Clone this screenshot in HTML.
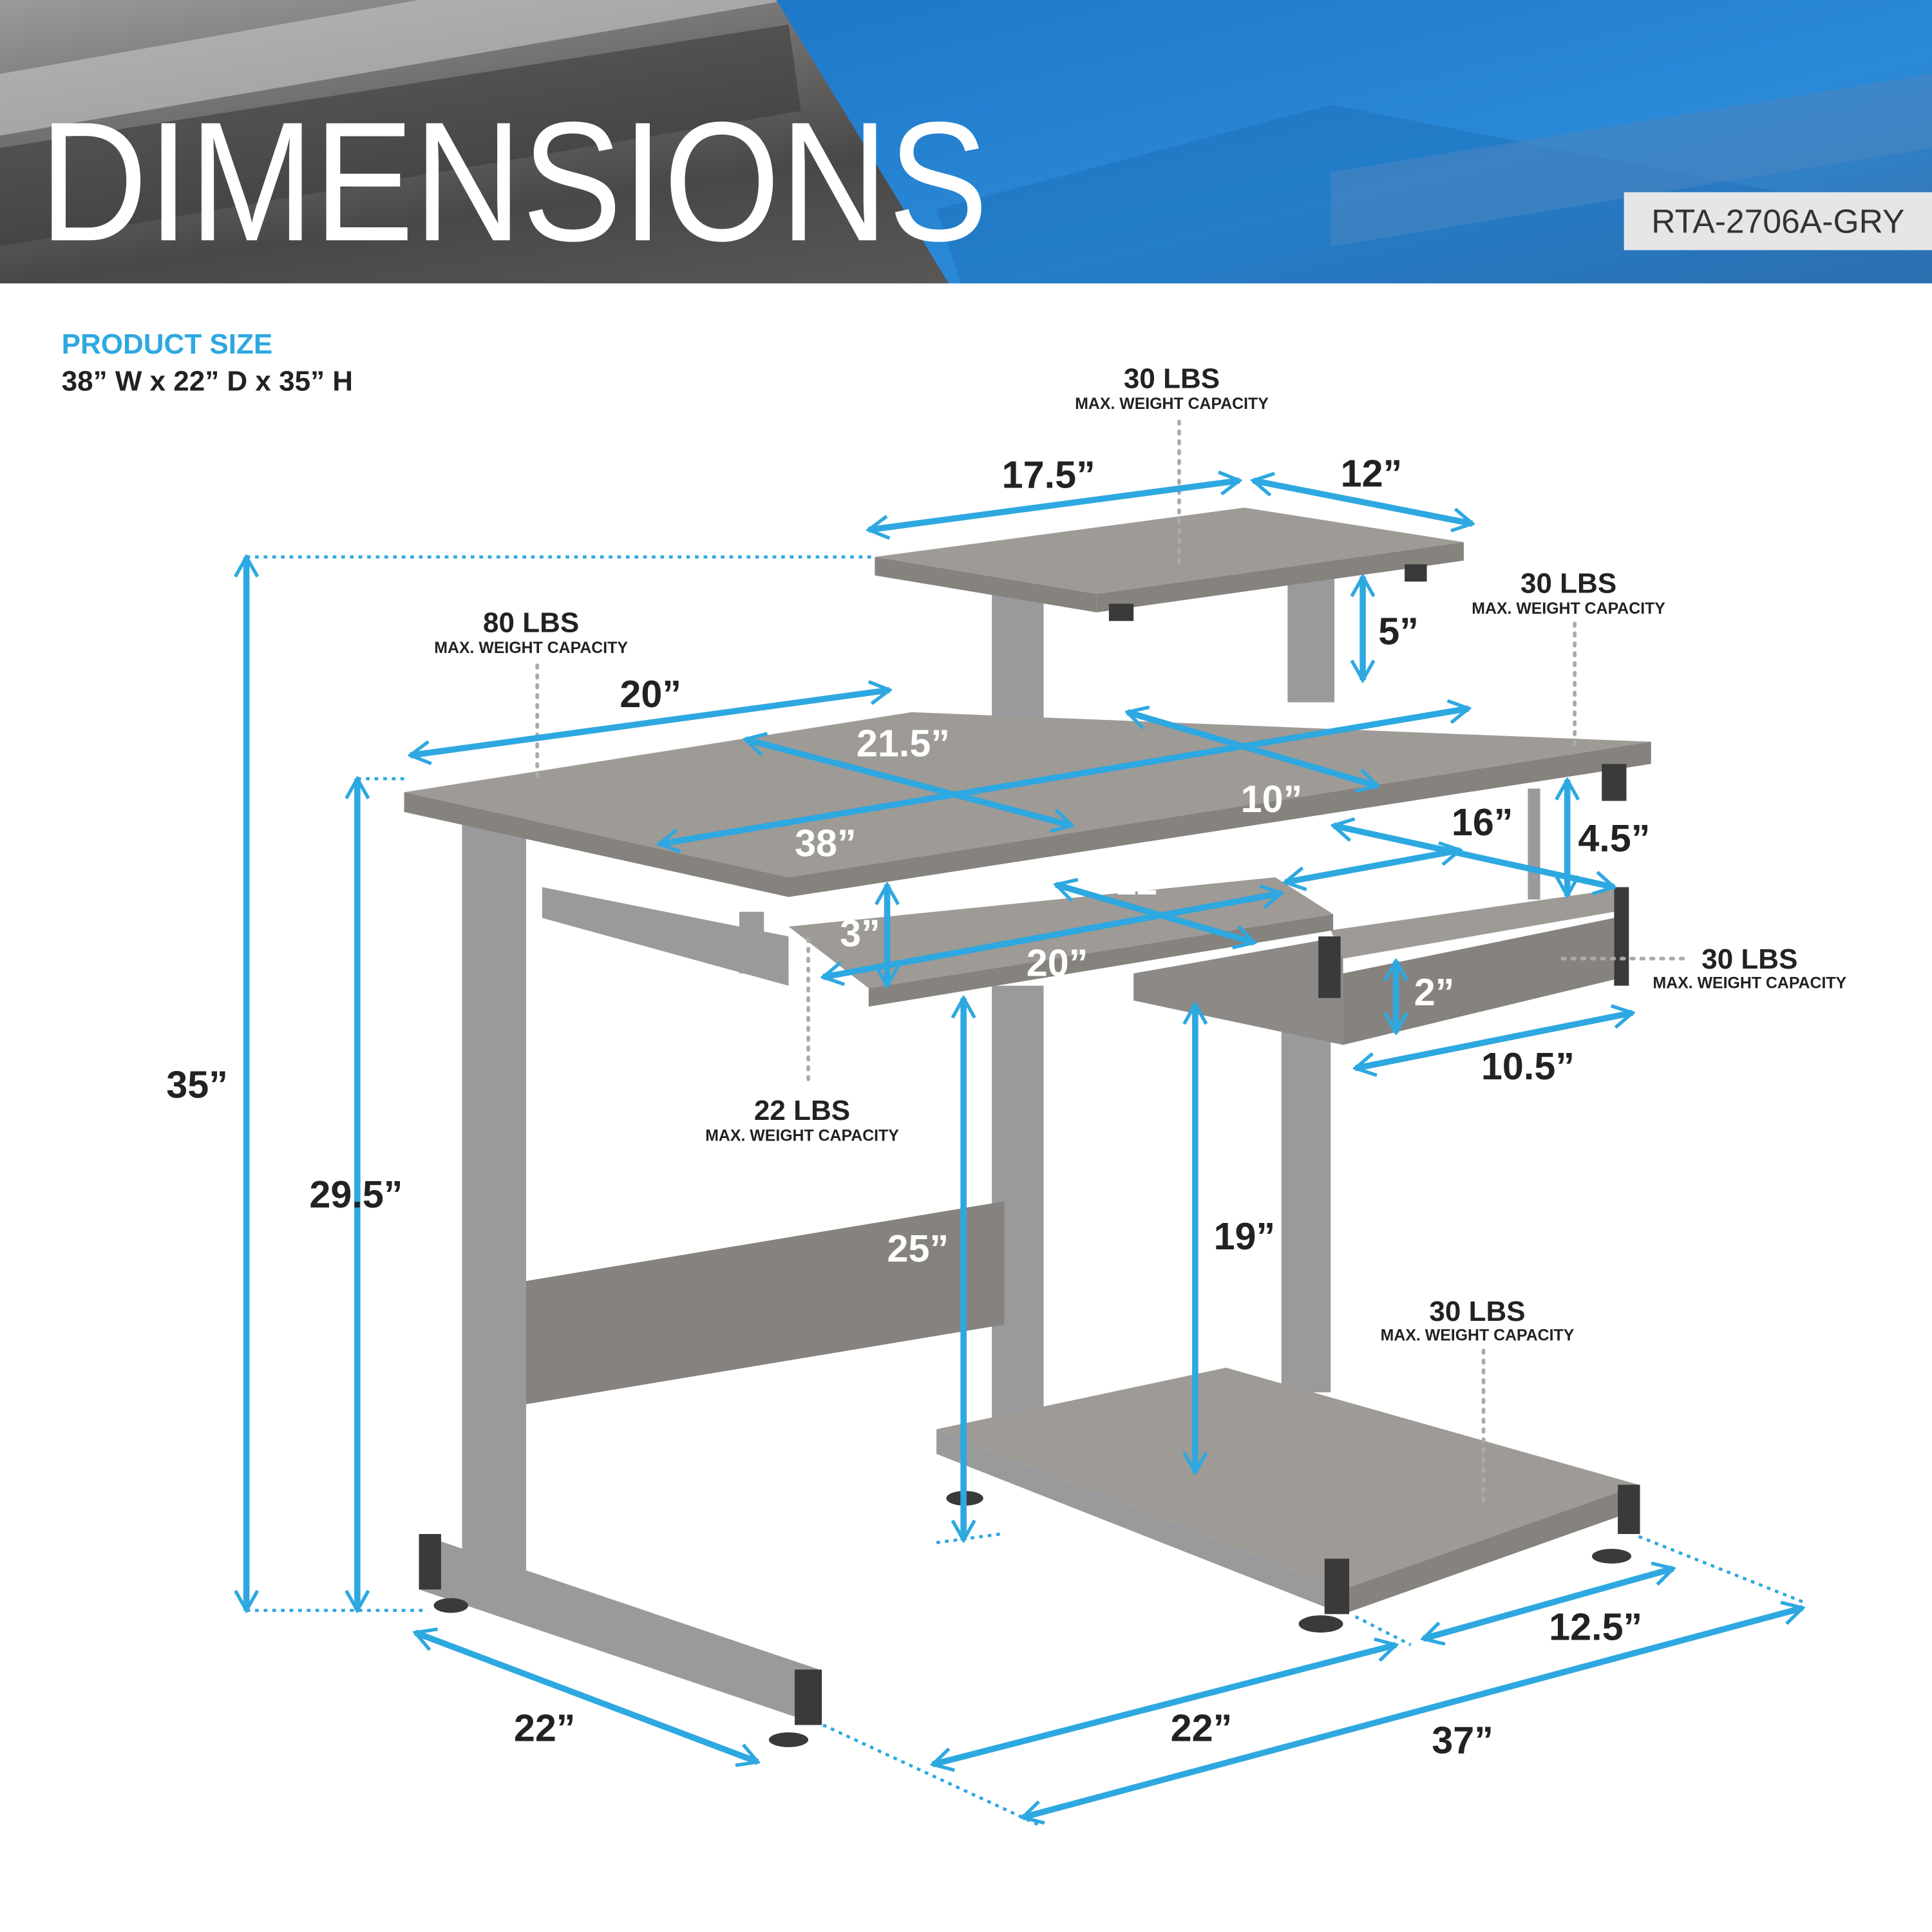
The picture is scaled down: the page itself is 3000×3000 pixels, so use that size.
<!DOCTYPE html>
<html><head><meta charset="utf-8"><style>
html,body{margin:0;padding:0;background:#fff}
svg{display:block}
.d{font-family:"Liberation Sans Narrow","Liberation Sans",sans-serif;font-weight:bold;font-size:31px;text-anchor:middle}
.k{fill:#222}.w{fill:#fff}
.l{font-family:"Liberation Sans Narrow","Liberation Sans",sans-serif;font-weight:bold;font-size:23px;text-anchor:middle;fill:#222}
.s{font-family:"Liberation Sans Narrow","Liberation Sans",sans-serif;font-weight:bold;font-size:13px;text-anchor:middle;fill:#222}
.a{stroke:#2ea8e0;stroke-width:5;fill:none;marker-start:url(#m);marker-end:url(#m)}
.dot{stroke:#aaa;stroke-width:3;stroke-dasharray:2 6;stroke-linecap:round;fill:none}
.bd{stroke:#2ea8e0;stroke-width:2.5;stroke-dasharray:3 4;fill:none}
.wood{fill:#86837f}.woodt{fill:#9e9a96}.metal{fill:#9a9a9c}.dk{fill:#3a3a3a}
</style></head><body>
<svg width="3000" height="3000" viewBox="0 0 1568 1568" xmlns="http://www.w3.org/2000/svg">
<defs>
<marker id="m" viewBox="0 0 10 10" refX="9" refY="5" markerWidth="4" markerHeight="4" orient="auto-start-reverse" markerUnits="strokeWidth">
<path d="M1,0.5 L9,5 L1,9.5" fill="none" stroke="#2ea8e0" stroke-width="1.4"/>
</marker>
<linearGradient id="gh" x1="0" y1="0" x2="1" y2="1">
<stop offset="0" stop-color="#9a9a9a"/><stop offset="0.5" stop-color="#4a4846"/><stop offset="1" stop-color="#6a6866"/></linearGradient>
<linearGradient id="bh" x1="0" y1="0" x2="1" y2="1">
<stop offset="0" stop-color="#1f78c8"/><stop offset="0.6" stop-color="#2a8ad8"/><stop offset="1" stop-color="#3a6fa8"/></linearGradient>
</defs>
<!-- header -->
<rect x="0" y="0" width="1568" height="230" fill="url(#gh)"/>
<polygon points="0,60 340,0 640,0 0,110" fill="#c8c8c8" opacity="0.6"/>
<polygon points="0,120 640,20 650,90 0,200" fill="#3e3c3a" opacity="0.6"/>
<polygon points="630,0 1568,0 1568,230 770,230" fill="url(#bh)"/>
<polygon points="760,170 1080,85 1568,180 1568,230 780,230" fill="#1d6fb8" opacity="0.5"/>
<polygon points="1080,140 1568,60 1568,120 1080,200" fill="#4a86c0" opacity="0.6"/>
<text x="32" y="195" fill="#fff" font-family="Liberation Sans Narrow,Liberation Sans,sans-serif" font-size="138" font-weight="normal" textLength="770" lengthAdjust="spacingAndGlyphs">DIMENSIONS</text>
<rect x="1318" y="156" width="250" height="47" fill="#e6e6e8"/>
<text x="1443" y="189" text-anchor="middle" font-family="Liberation Sans Narrow,Liberation Sans,sans-serif" font-size="27" fill="#333">RTA-2706A-GRY</text>
<text x="50" y="287" font-family="Liberation Sans Narrow,Liberation Sans,sans-serif" font-weight="bold" font-size="23" fill="#2ea8e0">PRODUCT SIZE</text>
<text x="50" y="317" font-family="Liberation Sans Narrow,Liberation Sans,sans-serif" font-weight="bold" font-size="23" fill="#222">38” W x 22” D x 35” H</text>

<!-- back legs -->
<rect x="1040" y="800" width="40" height="330" class="metal"/>
<rect x="805" y="480" width="42" height="110" class="metal"/>
<rect x="1045" y="470" width="38" height="100" class="metal"/>
<rect x="805" y="800" width="42" height="380" class="metal"/>
<!-- panel -->
<polygon points="425,1040 815,975 815,1075 425,1140" class="wood"/>
<!-- cpu shelf -->
<polygon points="760,1160 995,1110 1330,1205 1090,1290" class="woodt"/>
<polygon points="1090,1290 1330,1205 1330,1225 1090,1310" class="wood"/>
<polygon points="760,1160 1090,1290 1090,1310 760,1180" class="metal"/>
<rect x="1075" y="1265" width="20" height="45" class="dk"/>
<rect x="1313" y="1205" width="18" height="40" class="dk"/>
<ellipse cx="1072" cy="1318" rx="18" ry="7" class="dk"/>
<ellipse cx="1308" cy="1263" rx="16" ry="6" class="dk"/>
<ellipse cx="783" cy="1216" rx="15" ry="6" class="dk"/>
<!-- left leg -->
<rect x="375" y="660" width="52" height="620" class="metal"/>
<polygon points="340,1245 665,1355 665,1400 340,1290" class="metal"/>
<rect x="645" y="1355" width="22" height="45" class="dk"/>
<rect x="340" y="1245" width="18" height="45" class="dk"/>
<ellipse cx="640" cy="1412" rx="16" ry="6" class="dk"/>
<ellipse cx="366" cy="1303" rx="14" ry="6" class="dk"/>
<!-- top shelf -->
<polygon points="710,452 1010,412 1188,440 890,482" class="woodt"/>
<polygon points="710,452 890,482 890,497 710,467" class="wood"/>
<polygon points="890,482 1188,440 1188,455 890,497" class="wood"/>
<rect x="900" y="490" width="20" height="14" class="dk"/>
<rect x="1140" y="458" width="18" height="14" class="dk"/>
<!-- desk top -->
<polygon points="328,643 740,578 1340,602 640,712" class="woodt"/>
<polygon points="328,643 640,712 640,728 328,659" class="wood"/>
<polygon points="640,712 1340,602 1340,620 640,728" class="wood"/>
<rect x="1300" y="620" width="20" height="30" class="dk"/>
<rect x="1240" y="640" width="10" height="90" class="metal"/>
<!-- keyboard tray -->
<polygon points="640,752 1035,712 1082,742 705,802" class="woodt"/>
<polygon points="705,802 1082,742 1082,755 705,817" class="wood"/>
<polygon points="440,720 640,760 640,800 440,745" class="metal"/>
<rect x="600" y="740" width="20" height="50" class="metal"/>
<!-- drawer -->
<polygon points="920,790 1090,760 1090,848 920,812" fill="#8c8986"/>
<polygon points="1080,755 1310,722 1310,740 1090,778" class="woodt"/>
<polygon points="1090,790 1310,745 1310,795 1090,848" class="wood"/>
<rect x="1070" y="760" width="18" height="50" class="dk"/>
<rect x="1310" y="720" width="12" height="80" class="dk"/>

<!-- dotted leader lines -->
<line x1="200" y1="452" x2="708" y2="452" class="bd"/>
<line x1="200" y1="1307" x2="345" y2="1307" class="bd"/>
<line x1="290" y1="632" x2="330" y2="632" class="bd"/>
<line x1="760" y1="1252" x2="812" y2="1245" class="bd"/>
<line x1="668" y1="1400" x2="845" y2="1482" class="bd"/>
<line x1="1100" y1="1312" x2="1145" y2="1335" class="bd"/>
<line x1="1330" y1="1247" x2="1463" y2="1300" class="bd"/>
<line x1="957" y1="342" x2="957" y2="460" class="dot"/>
<line x1="1278" y1="506" x2="1278" y2="605" class="dot"/>
<line x1="436" y1="540" x2="436" y2="635" class="dot"/>
<line x1="656" y1="762" x2="656" y2="880" class="dot"/>
<line x1="1268" y1="778" x2="1372" y2="778" class="dot"/>
<line x1="1204" y1="1096" x2="1204" y2="1220" class="dot"/>

<!-- dimension arrows -->
<line x1="705" y1="430" x2="1006" y2="390" class="a"/>
<line x1="1017" y1="390" x2="1195" y2="425" class="a"/>
<line x1="200" y1="452" x2="200" y2="1307" class="a"/>
<line x1="290" y1="632" x2="290" y2="1307" class="a"/>
<line x1="333" y1="613" x2="722" y2="560" class="a"/>
<line x1="605" y1="600" x2="870" y2="670" class="a"/>
<line x1="535" y1="685" x2="1192" y2="575" class="a"/>
<line x1="915" y1="578" x2="1118" y2="638" class="a"/>
<line x1="1106" y1="468" x2="1106" y2="552" class="a"/>
<line x1="1272" y1="633" x2="1272" y2="727" class="a"/>
<line x1="1082" y1="670" x2="1310" y2="720" class="a"/>
<line x1="857" y1="718" x2="1018" y2="765" class="a"/>
<line x1="1043" y1="716" x2="1185" y2="690" class="a"/>
<line x1="720" y1="718" x2="720" y2="800" class="a"/>
<line x1="668" y1="793" x2="1040" y2="725" class="a"/>
<line x1="1133" y1="780" x2="1133" y2="838" class="a"/>
<line x1="1100" y1="867" x2="1325" y2="822" class="a"/>
<line x1="782" y1="810" x2="782" y2="1250" class="a"/>
<line x1="970" y1="815" x2="970" y2="1195" class="a"/>
<line x1="337" y1="1325" x2="615" y2="1430" class="a"/>
<line x1="757" y1="1432" x2="1133" y2="1335" class="a"/>
<line x1="830" y1="1475" x2="1463" y2="1305" class="a"/>
<line x1="1155" y1="1330" x2="1358" y2="1273" class="a"/>

<!-- dimension labels -->
<text x="851" y="396" class="d k">17.5”</text>
<text x="1113" y="395" class="d k">12”</text>
<text x="160" y="891" class="d k">35”</text>
<text x="289" y="980" class="d k">29.5”</text>
<text x="528" y="574" class="d k">20”</text>
<text x="733" y="614" class="d w">21.5”</text>
<text x="670" y="695" class="d w">38”</text>
<text x="1032" y="659" class="d w">10”</text>
<text x="1135" y="523" class="d k">5”</text>
<text x="1310" y="691" class="d k">4.5”</text>
<text x="1203" y="678" class="d k">16”</text>
<text x="930" y="726" class="d w">12”</text>
<text x="1140" y="739" class="d w">12”</text>
<text x="698" y="768" class="d w">3”</text>
<text x="858" y="792" class="d w">20”</text>
<text x="1164" y="816" class="d w">2”</text>
<text x="1240" y="876" class="d k">10.5”</text>
<text x="745" y="1024" class="d w">25”</text>
<text x="1010" y="1014" class="d k">19”</text>
<text x="442" y="1413" class="d k">22”</text>
<text x="975" y="1413" class="d k">22”</text>
<text x="1187" y="1423" class="d k">37”</text>
<text x="1295" y="1331" class="d k">12.5”</text>

<!-- weights -->
<text x="951" y="315" class="l">30 LBS</text><text x="951" y="332" class="s">MAX. WEIGHT CAPACITY</text>
<text x="1273" y="481" class="l">30 LBS</text><text x="1273" y="498" class="s">MAX. WEIGHT CAPACITY</text>
<text x="431" y="513" class="l">80 LBS</text><text x="431" y="530" class="s">MAX. WEIGHT CAPACITY</text>
<text x="651" y="909" class="l">22 LBS</text><text x="651" y="926" class="s">MAX. WEIGHT CAPACITY</text>
<text x="1420" y="786" class="l">30 LBS</text><text x="1420" y="802" class="s">MAX. WEIGHT CAPACITY</text>
<text x="1199" y="1072" class="l">30 LBS</text><text x="1199" y="1088" class="s">MAX. WEIGHT CAPACITY</text>
</svg>
</body></html>
